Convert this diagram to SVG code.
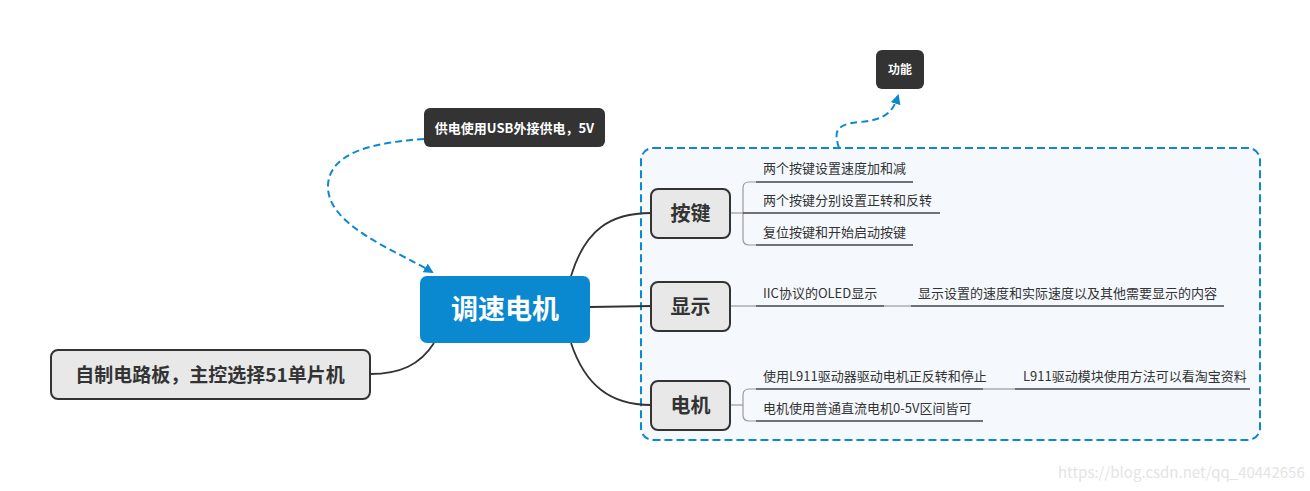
<svg xmlns="http://www.w3.org/2000/svg" width="1310" height="491" viewBox="0 0 1310 491">
<defs>
<style>
text{font-family:"Noto Sans CJK SC","Liberation Sans",sans-serif}
.conn{fill:none;stroke:#333;stroke-width:1.8}
.dash{fill:none;stroke:#0a88d0;stroke-width:2;stroke-dasharray:7 4}
.sub{fill:#e8e8e8;stroke:#333;stroke-width:2}
.subt{font-size:20px;font-weight:bold;fill:#333;text-anchor:middle}
.leaf{font-size:13px;fill:#333}
.ul{stroke:#444;stroke-width:1.6;fill:none}
.br{stroke:#999;stroke-width:1.2;fill:none}
.dark{fill:#333}
.darkt{fill:#fff;font-weight:bold;text-anchor:middle}
</style>
<marker id="ah" viewBox="0 0 10 10" refX="8" refY="5" markerWidth="5" markerHeight="5" orient="auto">
<path d="M0,0 L10,5 L0,10 z" fill="#0a88d0"/>
</marker>
</defs>
<rect width="1310" height="491" fill="#fff"/>
<g id="boundary">
<rect x="641" y="148" width="619" height="292" rx="12" fill="#f5f9fe" stroke="#0a88d0" stroke-width="2" stroke-dasharray="8 4"/>
</g>
<g id="connectors">
<path class="conn" d="M571,276 C585,230 610,213 651,213"/>
<path class="conn" d="M590,307 L651,306"/>
<path class="conn" d="M571,343 C585,385 610,405 651,405"/>
<path class="conn" d="M434,343 C420,365 400,374 370,374"/>
<path class="dash" d="M424,139 C380,142 330,150 328,185 C326,225 395,250 432,272" marker-end="url(#ah)"/>
<path class="dash" d="M839,148 C835,135 832,124 860,122 C885,120 893,112 898,96" marker-end="url(#ah)"/>
<path class="br" d="M730,213 L743,213"/>
<path class="br" d="M756,182 L749,182 Q743,182 743,188 L743,239 Q743,245 749,245 L756,245"/>
<path class="br" d="M730,306 L756,306"/>
<path class="br" d="M884,306 L911,306"/>
<path class="br" d="M730,405 L743,405"/>
<path class="br" d="M756,389 L749,389 Q743,389 743,395 L743,415 Q743,421 749,421 L756,421"/>
<path class="br" d="M983,389 L1015,389"/>
</g>
<g id="center">
<rect x="420" y="276" width="170" height="67" rx="7" fill="#0a88d0"/>
<text x="505" y="319" font-size="27" font-weight="bold" fill="#fff" text-anchor="middle">调速电机</text>
</g>
<g id="left-node">
<rect class="sub" x="51" y="350" width="319" height="49" rx="7"/>
<text x="210" y="382" font-size="19" font-weight="bold" fill="#333" text-anchor="middle">自制电路板，主控选择51单片机</text>
</g>
<g id="power-note">
<rect class="dark" x="424" y="108" width="181" height="39" rx="6"/>
<text class="darkt" x="514.5" y="132.5" font-size="13">供电使用USB外接供电，5V</text>
</g>
<g id="func-note">
<rect class="dark" x="876" y="50" width="48" height="39" rx="6"/>
<text class="darkt" x="900" y="74" font-size="12">功能</text>
</g>
<g id="key">
<rect class="sub" x="651" y="189" width="79" height="49" rx="7"/>
<text class="subt" x="690.5" y="221">按键</text>
</g>
<g id="key-1">
<text class="leaf" x="763" y="173">两个按键设置速度加和减</text>
<path class="ul" d="M756,182 L913,182"/>
</g>
<g id="key-2">
<text class="leaf" x="763" y="205">两个按键分别设置正转和反转</text>
<path class="ul" d="M743,213 L940,213"/>
</g>
<g id="key-3">
<text class="leaf" x="763" y="237">复位按键和开始启动按键</text>
<path class="ul" d="M756,245 L913,245"/>
</g>
<g id="display">
<rect class="sub" x="651" y="282" width="79" height="49" rx="7"/>
<text class="subt" x="690.5" y="314">显示</text>
</g>
<g id="display-1">
<text class="leaf" x="763" y="298">IIC协议的OLED显示</text>
<path class="ul" d="M756,306 L884,306"/>
</g>
<g id="display-2">
<text class="leaf" x="918" y="298">显示设置的速度和实际速度以及其他需要显示的内容</text>
<path class="ul" d="M911,306 L1224,306"/>
</g>
<g id="motor">
<rect class="sub" x="651" y="381" width="79" height="49" rx="7"/>
<text class="subt" x="690.5" y="413">电机</text>
</g>
<g id="motor-1">
<text class="leaf" x="763" y="381">使用L911驱动器驱动电机正反转和停止</text>
<path class="ul" d="M756,389 L983,389"/>
</g>
<g id="motor-1-1">
<text class="leaf" x="1023" y="381">L911驱动模块使用方法可以看淘宝资料</text>
<path class="ul" d="M1015,389 L1250,389"/>
</g>
<g id="motor-2">
<text class="leaf" x="763" y="413">电机使用普通直流电机0-5V区间皆可</text>
<path class="ul" d="M756,421 L983,421"/>
</g>
<text x="1058" y="478" font-family="Liberation Sans, sans-serif" font-size="15" fill="#e4e4e4">https://blog.csdn.net/qq_40442656</text>
</svg>
